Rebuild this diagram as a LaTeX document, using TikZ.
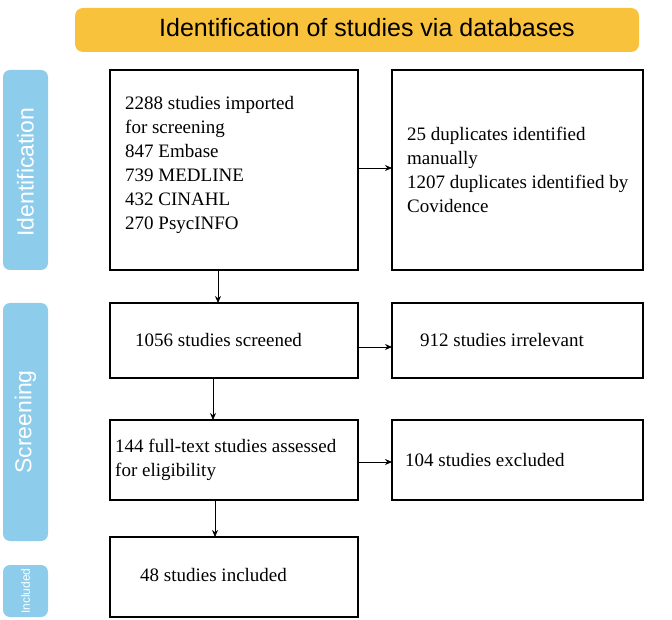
\documentclass[tikz,border=0pt]{standalone}
\usepackage{fontspec}
\setmainfont{Liberation Serif}
\newfontfamily\sansf{Liberation Sans}
\usetikzlibrary{arrows.meta}
\definecolor{banner}{HTML}{F9C23C}
\definecolor{side}{HTML}{8DCDEB}
\begin{document}
\begin{tikzpicture}[x=1pt,y=-1pt,
  box/.style={draw,line width=1.6pt,inner sep=0pt},
  txt/.style={anchor=west,align=left,inner sep=0pt,font=\fontsize{19}{24}\selectfont},
  sidebar/.style={fill=side,rounded corners=7pt},
  sidelab/.style={rotate=90,text=white,font=\sansf\fontsize{23}{26}\selectfont},
  arr/.style={-{Stealth[length=7pt,width=6pt]},line width=0.8pt}]
\useasboundingbox (0,0) rectangle (672,620);
\fill[banner,rounded corners=8pt] (75,8) rectangle (639,52);
\node[font=\sansf\fontsize{25}{28}\selectfont] (ban) at (367,28) {Identification of studies via databases};
\fill[sidebar] (3,70) rectangle (48,270);
\node[sidelab] (s1) at (25.5,172) {Identification};
\fill[sidebar] (3,303) rectangle (48,541);
\node[sidelab] (s2) at (25.5,422) {Screening};
\fill[sidebar] (3,565) rectangle (48,617);
\node[sidelab,font=\sansf\fontsize{12}{13}\selectfont] (s3) at (25.5,591) {Included};
\draw[box] (110,70) rectangle (358,270);
\draw[box] (392,70) rectangle (643,270);
\draw[box] (110,303) rectangle (358,378);
\draw[box] (392,303) rectangle (643,378);
\draw[box] (110,420) rectangle (358,500);
\draw[box] (392,420) rectangle (643,500);
\draw[box] (110,537) rectangle (358,617);
\node[txt] (t1) at (125,165) {2288 studies imported\\for screening\\847 Embase\\739 MEDLINE\\432 CINAHL\\270 PsycINFO};
\node[txt] (t2) at (407,170) {25 duplicates identified\\manually\\1207 duplicates identified by\\Covidence};
\node[txt] (t3) at (135,340) {1056 studies screened};
\node[txt] (t4) at (420,340) {912 studies irrelevant};
\node[txt] (t5) at (115,460) {144 full-text studies assessed\\for eligibility};
\node[txt] (t6) at (405,460) {104 studies excluded};
\node[txt] (t7) at (140,575) {48 studies included};
\coordinate (a1s) at (218,270); \coordinate (a1e) at (218,303);
\coordinate (a2s) at (213,378); \coordinate (a2e) at (213,420);
\coordinate (a3s) at (215,500); \coordinate (a3e) at (215,537);
\coordinate (h1s) at (358,168); \coordinate (h1e) at (392,168);
\coordinate (h2s) at (358,347); \coordinate (h2e) at (392,347);
\coordinate (h3s) at (358,462); \coordinate (h3e) at (392,462);
\foreach \p in {a1,a2,a3,h1,h2,h3} \draw[arr] (\p s) -- (\p e);
\end{tikzpicture}
\end{document}
